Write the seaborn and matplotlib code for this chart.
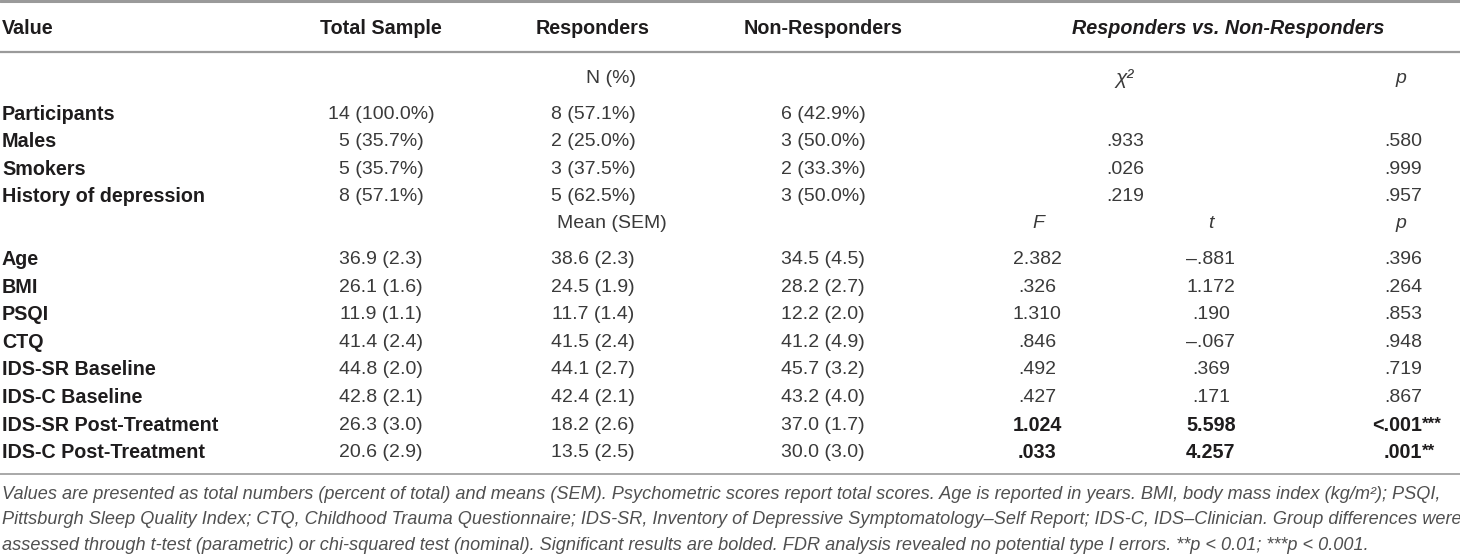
import matplotlib
matplotlib.use("Agg")
import matplotlib.pyplot as plt
import seaborn as sns

# ---- table content ----
header_labels = ["Value", "Total Sample", "Responders", "Non-Responders"]
comparison_header = "Responders vs. Non-Responders"

count_labels = ["Participants", "Males", "Smokers", "History of depression"]
count_total = ["14 (100.0%)", "5 (35.7%)", "5 (35.7%)", "8 (57.1%)"]
count_resp = ["8 (57.1%)", "2 (25.0%)", "3 (37.5%)", "5 (62.5%)"]
count_nonresp = ["6 (42.9%)", "3 (50.0%)", "2 (33.3%)", "3 (50.0%)"]
count_chi2 = ["", ".933", ".026", ".219"]
count_p = ["", ".580", ".999", ".957"]

mean_labels = ["Age", "BMI", "PSQI", "CTQ", "IDS-SR Baseline", "IDS-C Baseline",
               "IDS-SR Post-Treatment", "IDS-C Post-Treatment"]
mean_total = ["36.9 (2.3)", "26.1 (1.6)", "11.9 (1.1)", "41.4 (2.4)",
              "44.8 (2.0)", "42.8 (2.1)", "26.3 (3.0)", "20.6 (2.9)"]
mean_resp = ["38.6 (2.3)", "24.5 (1.9)", "11.7 (1.4)", "41.5 (2.4)",
             "44.1 (2.7)", "42.4 (2.1)", "18.2 (2.6)", "13.5 (2.5)"]
mean_nonresp = ["34.5 (4.5)", "28.2 (2.7)", "12.2 (2.0)", "41.2 (4.9)",
                "45.7 (3.2)", "43.2 (4.0)", "37.0 (1.7)", "30.0 (3.0)"]
mean_f = ["2.382", ".326", "1.310", ".846", ".492", ".427", "1.024", ".033"]
mean_t = ["\u2013.881", "1.172", ".190", "\u2013.067", ".369", ".171", "5.598", "4.257"]
mean_p = [".396", ".264", ".853", ".948", ".719", ".867", "<.001", ".001"]
mean_stars = ["", "", "", "", "", "", "***", "**"]
mean_sig = [False, False, False, False, False, False, True, True]

footnote = [
    "Values are presented as total numbers (percent of total) and means (SEM). Psychometric scores report total scores. "
    "Age is reported in years. BMI, body mass index (kg/m\u00b2); PSQI,",
    "Pittsburgh Sleep Quality Index; CTQ, Childhood Trauma Questionnaire; IDS-SR, Inventory of Depressive "
    "Symptomatology\u2013Self Report; IDS-C, IDS\u2013Clinician. Group differences were",
    "assessed through t-test (parametric) or chi-squared test (nominal). Significant results are bolded. "
    "FDR analysis revealed no potential type I errors. **p < 0.01; ***p < 0.001.",
]

sns.set_theme(style="white")
plt.rcParams["font.family"] = ["Liberation Sans", "DejaVu Sans"]

W, H = 1460, 557
fig = plt.figure(figsize=(W / 100, H / 100), dpi=100)
ax = fig.add_axes([0, 0, 1, 1])
ax.set_xlim(0, W)
ax.set_ylim(H, 0)
ax.axis("off")
r = fig.canvas.get_renderer()

ink = "#1e1c1d"
body = "#3a3a3a"
rule = "#9a9a9a"
fs_body = 14
fs_bold = 14.2
dy_txt = 1.5  # matplotlib's centre sits a little high against the glyphs

# column centres (pixels)
x_label = 2
x_total, x_resp, x_nonresp = 381, 593, 823
x_chi, x_pcount = 1125, 1403
x_f, x_t = 1037, 1211
x_pright = 1422  # right edge of p values (decimal aligned)

# rules
ax.axhline(1.2, color=rule, lw=2.2)
ax.axhline(52, color=rule, lw=1.6)
ax.axhline(474, color=rule, lw=1.2)

# header row
y_head = 27 + dy_txt
for lab, x, ha in zip(header_labels, [x_label, x_total, x_resp, x_nonresp],
                      ["left", "center", "center", "center"]):
    ax.text(x, y_head, lab, ha=ha, va="center", fontsize=fs_bold, fontweight="bold", color=ink)
ax.text(1228, y_head, comparison_header, ha="center", va="center", fontsize=fs_bold,
        fontweight="bold", fontstyle="italic", color=ink)

# sub-header for count block
y_sub1 = 77 + dy_txt
ax.text(611, y_sub1, "N (%)", ha="center", va="center", fontsize=fs_body, color=body)
ax.text(1125, y_sub1, "\u03c7\u00b2", ha="center", va="center", fontsize=fs_body + 1,
        fontstyle="italic", color=body)
ax.text(1401, y_sub1, "p", ha="center", va="center", fontsize=fs_body, fontstyle="italic", color=body)

y0, dy = 113 + dy_txt, 27.3
for i, lab in enumerate(count_labels):
    y = y0 + i * dy
    ax.text(x_label, y, lab, ha="left", va="center", fontsize=fs_bold, fontweight="bold", color=ink)
    for x, val in zip([x_total, x_resp, x_nonresp, x_chi, x_pcount],
                      [count_total[i], count_resp[i], count_nonresp[i], count_chi2[i], count_p[i]]):
        ax.text(x, y, val, ha="center", va="center", fontsize=fs_body, color=body)

# sub-header for mean block
y_sub2 = 222 + dy_txt
ax.text(612, y_sub2, "Mean (SEM)", ha="center", va="center", fontsize=fs_body, color=body)
for x, s in zip([1038, 1211, 1401], ["F", "t", "p"]):
    ax.text(x, y_sub2, s, ha="center", va="center", fontsize=fs_body, fontstyle="italic", color=body)

y1, dy1 = 258 + dy_txt, 27.6
for i, lab in enumerate(mean_labels):
    y = y1 + i * dy1
    ax.text(x_label, y, lab, ha="left", va="center", fontsize=fs_bold, fontweight="bold", color=ink)
    for x, val in zip([x_total, x_resp, x_nonresp],
                      [mean_total[i], mean_resp[i], mean_nonresp[i]]):
        ax.text(x, y, val, ha="center", va="center", fontsize=fs_body, color=body)
    w = "bold" if mean_sig[i] else "normal"
    c = ink if mean_sig[i] else body
    f = fs_bold if mean_sig[i] else fs_body
    for x, val in zip([x_f, x_t], [mean_f[i], mean_t[i]]):
        ax.text(x, y, val, ha="center", va="center", fontsize=f, fontweight=w, color=c)
    ax.text(x_pright, y, mean_p[i], ha="right", va="center", fontsize=f, fontweight=w, color=c)
    if mean_stars[i]:
        ax.text(x_pright, y - 1, mean_stars[i], ha="left", va="center", fontsize=f - 2,
                fontweight=w, color=c)

# footnote, sized so the longest line spans the full width
fn_texts = []
for i, line in enumerate(footnote):
    fn_texts.append(ax.text(2, 493 + dy_txt + i * 25.5, line, ha="left", va="center", fontsize=12,
                            fontstyle="italic", color="#505050"))
widest = max(t.get_window_extent(r).width for t in fn_texts)
for t in fn_texts:
    t.set_fontsize(12 * 1452 / widest)

fig.savefig("out.png", dpi=100, facecolor="white")
